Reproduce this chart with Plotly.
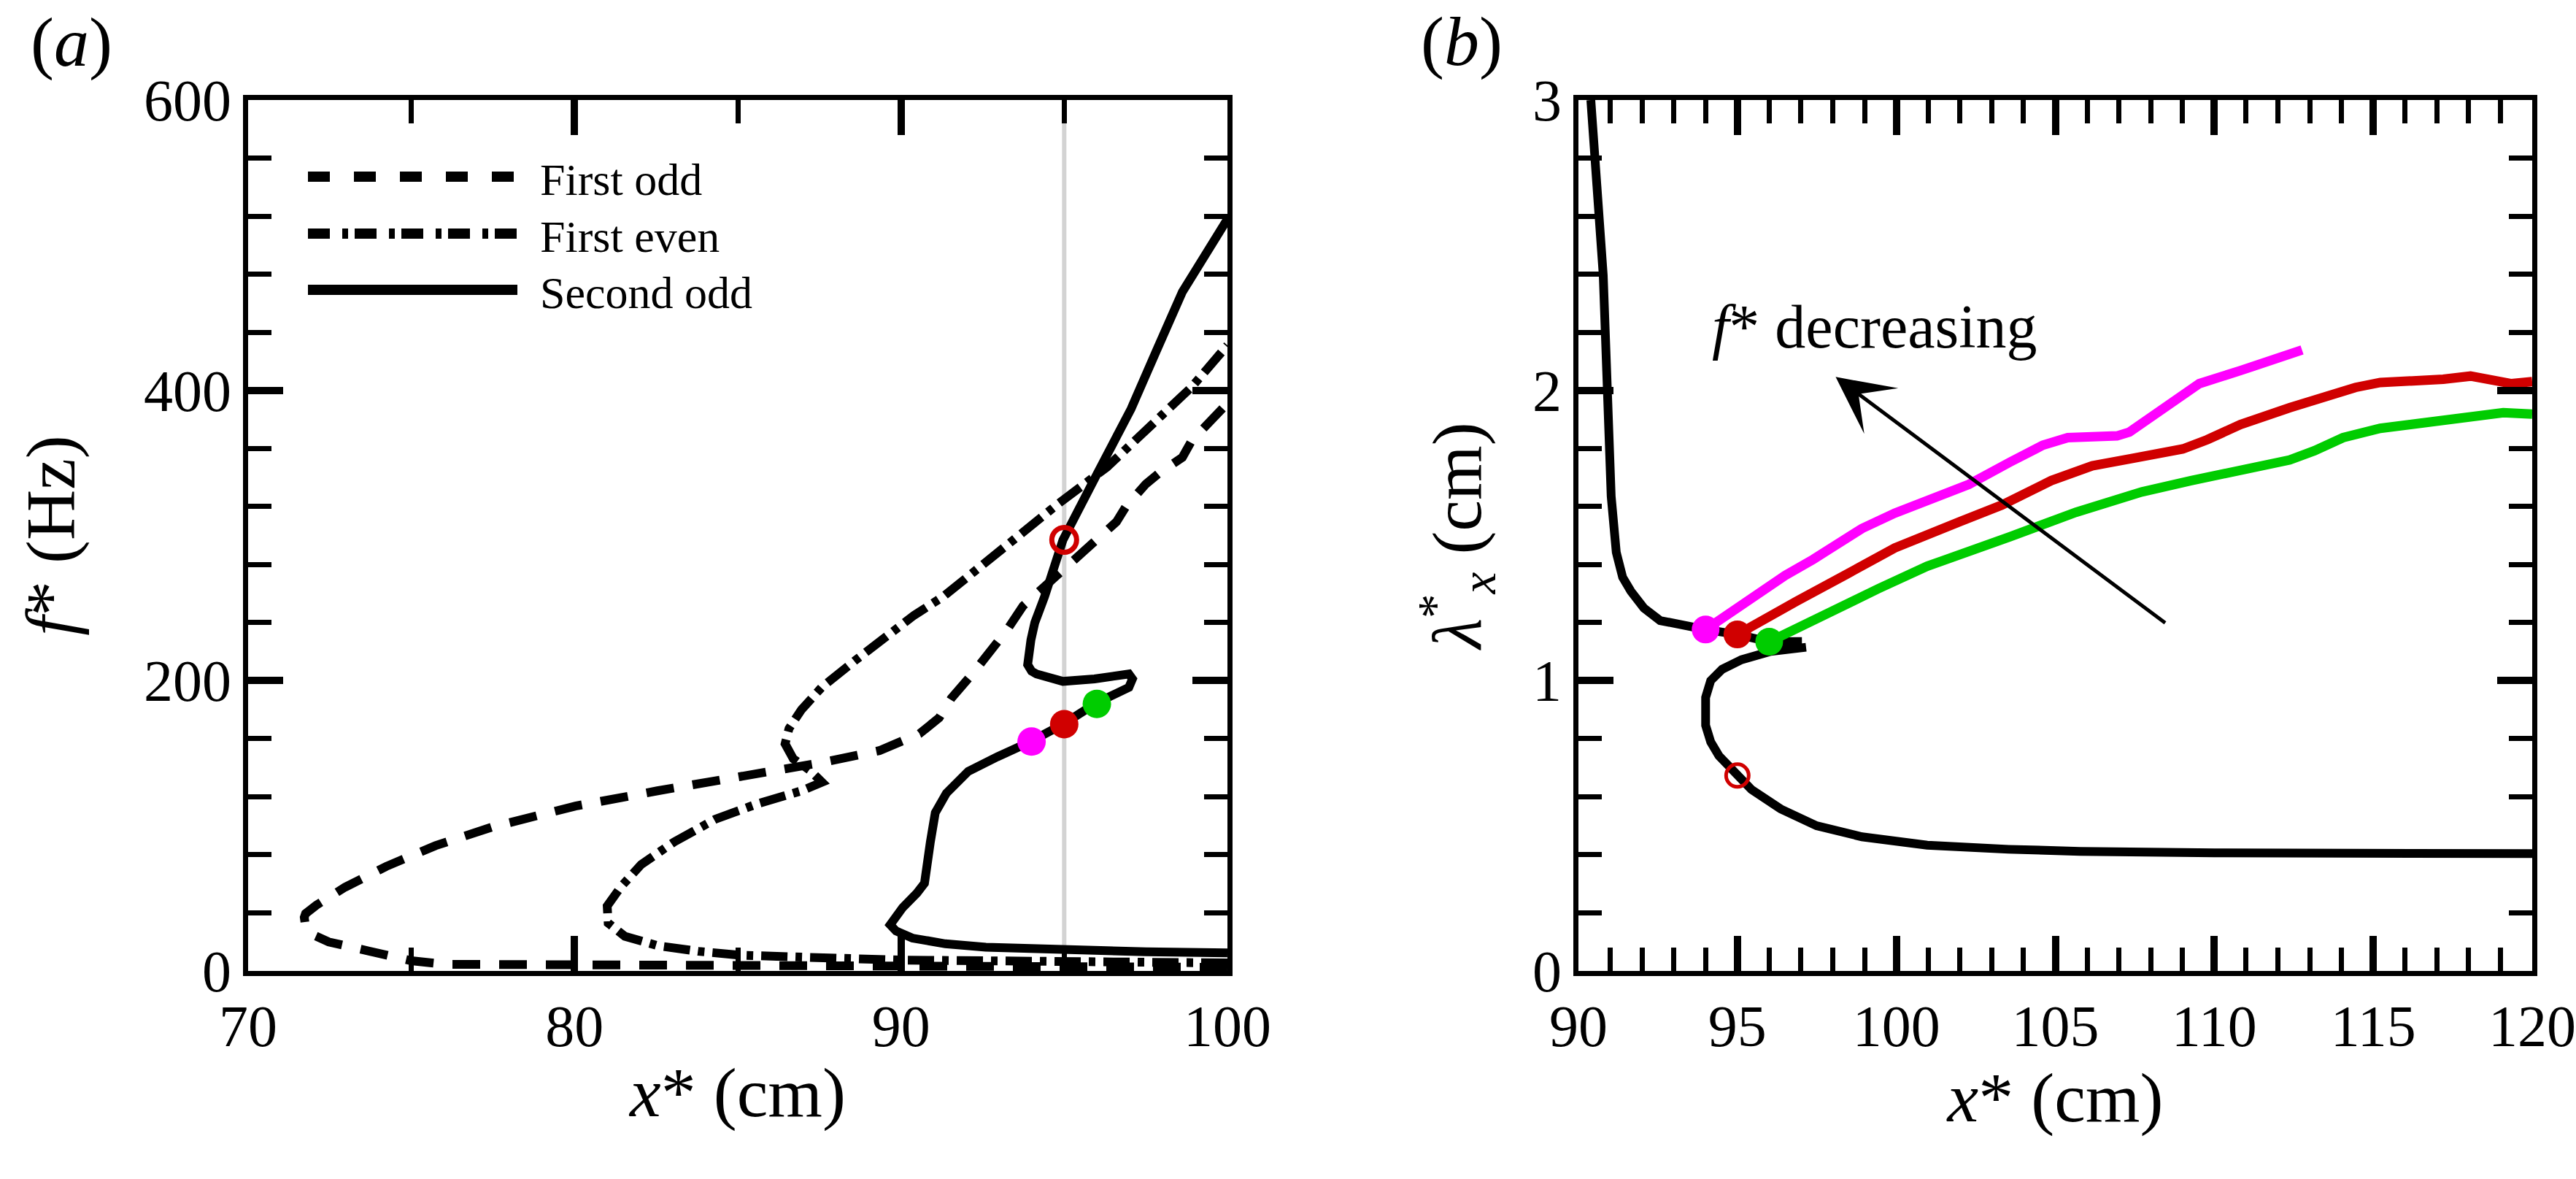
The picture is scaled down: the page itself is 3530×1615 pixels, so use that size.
import plotly.graph_objects as go

FONT = "Liberation Serif, Times New Roman, serif"
W, H = 3530, 1615

# ---------------- panel (a): f* versus x* ----------------
series_names = ["First odd", "First even", "Second odd"]

odd1_x = [100, 95, 90, 85, 80, 77.5, 76.0, 75.0, 74.23, 73.22, 72.47, 71.96, 71.76, 71.72,
          71.76, 72.09, 72.97, 74.23, 75.74, 77.5, 80.03, 82.54, 85.06, 87.58, 89.34, 90.57,
          91.17, 91.54, 92.2, 93.25, 93.74, 94.82, 95.49, 96.0, 96.6, 96.9, 97.5, 97.95,
          98.62, 98.91, 99.5, 100]
odd1_y = [2.5, 2.7, 2.9, 3.1, 3.4, 3.9, 4.6, 7.0, 10.9, 15.6, 20.0, 25.2, 30.4, 36.9,
          39.5, 45.3, 57.7, 72.0, 86.3, 99.3, 113.6, 124.1, 133.2, 143.6, 151.8, 163.5,
          174.4, 187.8, 205, 235, 251.5, 273.3, 287.6, 298.4, 309.4, 320.3, 335.4, 343.7,
          353.8, 365.5, 378.9, 391]

even1_x = [100, 95, 90, 87, 85.06, 83.8, 82.54, 81.54, 81.03, 81.0, 81.41, 82.04, 83.05,
           84.31, 85.57, 86.95, 87.58, 87.2, 86.7, 86.45, 86.57, 86.95, 87.58, 88.59, 89.45,
           90.4, 91.3, 92.58, 93.7, 94.82, 96.31, 97.8, 98.91, 100]
even1_y = [5.5, 6.0, 7.5, 9.5, 10.9, 13.5, 17.4, 23.9, 33.0, 44.7, 57.7, 73.3, 88.9,
           104.5, 114.9, 124.1, 130.0, 138.4, 146.2, 156.5, 167.0, 180.0, 195.6, 213.8, 228.5,
           245, 258, 281.7, 302, 321.9, 347.1, 378.9, 402.4, 431]

odd2_x = [100, 99.3, 98.62, 97.8, 97.05, 96.0, 94.96, 94.4, 94.1, 93.98, 93.88, 94.0, 94.15,
          94.96, 95.93, 96.98, 97.09, 96.98, 95.97, 94.98, 93.98, 92.95, 92.06, 91.39, 91.05,
          90.9, 90.72, 90.49, 90.05, 89.67, 89.85, 90.35, 91.36, 92.6, 95, 97.5, 100]
odd2_y = [518, 492.5, 467.8, 426, 387.3, 342.1, 296.8, 258, 240, 228, 211, 206.5, 204.6,
          199.5, 201.2, 204.6, 201.2, 195.3, 184.4, 170.2, 158.1, 147.5, 137.5, 122.4, 109,
          88.9, 60.4, 53.7, 43.6, 31.8, 27.5, 22.6, 18.7, 16.4, 14.5, 13.2, 12.5]

pt_colors = ["#ff00ff", "#d00000", "#00cc00"]
pts_a_x = [94, 95, 96]
pts_a_y = [158, 170, 184]
open_a_x = [95]
open_a_y = [297]
ref_x_a = 95

# ---------------- panel (b): lambda_x* versus x* ----------------
lam_x = [90.39, 90.55, 90.78, 90.91, 90.95, 91.03, 91.19, 91.39, 91.65, 92.06, 92.57, 93.29,
         94.0, 95.0, 96.0, 97.03, None,
         97.16, 96.05, 95.13, 94.52, 94.16, 94.0, 94.0, 94.16, 94.42, 95.0, 95.44, 96.36,
         97.49, 98.92, 100.97, 103.53, 105.77, 110, 115, 120]
lam_y = [3.0, 2.77, 2.396, 2.0, 1.75, 1.635, 1.442, 1.356, 1.308, 1.25, 1.207, 1.188,
         1.176, 1.159, 1.134, 1.135, None,
         1.115, 1.101, 1.072, 1.039, 1.0, 0.942, 0.846, 0.789, 0.741, 0.673, 0.625, 0.558,
         0.500, 0.462, 0.433, 0.419, 0.412, 0.407, 0.405, 0.404]

mag_x = [94.0, 94.42, 95.3, 95.85, 96.5, 97.39, 98.92, 99.95, 101.49, 102.28, 103.58, 104.61,
         105.39, 106.94, 107.33, 107.97, 109.01, 109.53, 110.82, 112.11, 112.76]
mag_y = [1.176, 1.207, 1.277, 1.321, 1.362, 1.418, 1.524, 1.577, 1.644, 1.676, 1.753, 1.811,
         1.837, 1.843, 1.856, 1.907, 1.991, 2.023, 2.068, 2.113, 2.139]

red_x = [95.0, 95.44, 96.87, 98.41, 99.95, 102.0, 103.32, 104.87, 106.16, 107.46, 109.01,
         109.78, 110.82, 112.37, 113.41, 114.44, 115.22, 116.25, 117.2, 118.06, 118.84,
         119.35, 120]
red_y = [1.159, 1.188, 1.274, 1.365, 1.457, 1.548, 1.605, 1.689, 1.740, 1.766, 1.798,
         1.830, 1.882, 1.940, 1.978, 2.010, 2.027, 2.030, 2.038, 2.049, 2.036, 2.023, 2.030]

grn_x = [96.0, 96.46, 97.9, 99.44, 100.97, 103.02, 103.58, 105.65, 107.72, 109.27, 110.82,
         112.37, 113.15, 114.05, 115.22, 116.51, 118.06, 119.09, 120]
grn_y = [1.134, 1.159, 1.231, 1.317, 1.394, 1.480, 1.496, 1.580, 1.650, 1.689, 1.728,
         1.760, 1.792, 1.837, 1.869, 1.888, 1.914, 1.923, 1.918]

pts_b_x = [94, 95, 96]
pts_b_y = [1.176, 1.159, 1.134]
open_b_x = [95]
open_b_y = [0.673]

arrow_tail = (108.49, 1.196)
arrow_tip = (98.09, 2.046)
arrow_text_pos = (99.3, 2.22)

# ---------------- styling ----------------
BLACK_W = 12
COLOR_W = 13
DASH = "38px,26px"
DASHDOT = "36px,11px,9px,11px"
dash_styles = [DASH, DASHDOT, "solid"]
legend_dashes = ["30px,33px", "30px,17px,8px,9px", "solid"]

fig = go.Figure()

fig.add_vline(x=ref_x_a, line=dict(color="#d3d3d3", width=6), layer="below")

for xs, ys, nm, ds in [(odd1_x, odd1_y, series_names[0], dash_styles[0]),
                       (even1_x, even1_y, series_names[1], dash_styles[1]),
                       (odd2_x, odd2_y, series_names[2], dash_styles[2])]:
    fig.add_trace(go.Scatter(x=xs, y=ys, mode="lines", name=nm, showlegend=False,
                             line=dict(color="black", width=BLACK_W, dash=ds),
                             xaxis="x", yaxis="y"))

fig.add_trace(go.Scatter(x=pts_a_x, y=pts_a_y, mode="markers", showlegend=False,
                         marker=dict(size=39, color=pt_colors, line=dict(width=0)),
                         xaxis="x", yaxis="y"))
fig.add_trace(go.Scatter(x=open_a_x, y=open_a_y, mode="markers", showlegend=False,
                         marker=dict(symbol="circle-open", size=34, color="#d00000",
                                     line=dict(width=7, color="#d00000")),
                         xaxis="x", yaxis="y"))

# panel (b)
fig.add_trace(go.Scatter(x=lam_x, y=lam_y, mode="lines", showlegend=False, connectgaps=False,
                         line=dict(color="black", width=BLACK_W), xaxis="x2", yaxis="y2"))
for xs, ys, c in [(mag_x, mag_y, pt_colors[0]), (red_x, red_y, pt_colors[1]),
                  (grn_x, grn_y, pt_colors[2])]:
    fig.add_trace(go.Scatter(x=xs, y=ys, mode="lines", showlegend=False,
                             line=dict(color=c, width=COLOR_W), xaxis="x2", yaxis="y2"))
fig.add_trace(go.Scatter(x=pts_b_x, y=pts_b_y, mode="markers", showlegend=False,
                         marker=dict(size=38, color=pt_colors, line=dict(width=0)),
                         xaxis="x2", yaxis="y2"))
fig.add_trace(go.Scatter(x=open_b_x, y=open_b_y, mode="markers", showlegend=False,
                         marker=dict(symbol="circle-open", size=31, color="#d00000",
                                     line=dict(width=5, color="#d00000")),
                         xaxis="x2", yaxis="y2"))

tickfont = dict(family=FONT, size=80, color="black")
titlefont = dict(family=FONT, size=96, color="black")


def axis(domain, rng, dtick, tick0, mdtick, anchor, title, standoff):
    return dict(domain=domain, range=rng, anchor=anchor, tickmode="linear", dtick=dtick,
                tick0=tick0, ticks="inside", ticklen=48, tickwidth=10, tickcolor="black",
                minor=dict(ticks="inside", ticklen=32, tickwidth=7, tickcolor="black",
                           dtick=mdtick, tick0=tick0, showgrid=False),
                showline=True, linecolor="black", linewidth=7, mirror="ticks",
                showgrid=False, zeroline=False, tickfont=tickfont, fixedrange=True,
                title=dict(text=title, font=titlefont, standoff=standoff),
                automargin=False)


ydom = [1 - 1330 / H, 1 - 137 / H]
xdom_a = [340 / W, 1682 / W]
xdom_b = [2163 / W, 3470 / W]

layout = dict(
    width=W, height=H, margin=dict(l=0, r=0, t=0, b=0),
    paper_bgcolor="white", plot_bgcolor="white", showlegend=False,
    font=dict(family=FONT, color="black"),
    xaxis=axis(xdom_a, [70, 100], 10, 70, 5, "y", "<i>x</i>* (cm)", 15),
    yaxis=axis(ydom, [0, 600], 200, 0, 40, "x", "<i>f</i>* (Hz)", 65),
    xaxis2=axis(xdom_b, [90, 120], 5, 90, 1, "y2", "<i>x</i>* (cm)", 15),
    yaxis2=axis(ydom, [0, 3], 1, 0, 0.2, "x2",
                "<i>λ</i><sup>*</sup><sub><i>x</i></sub> (cm)", 41),
    xaxis3=dict(overlaying="x", anchor="y", range=[70, 100], tickmode="array",
                tickvals=[95], ticktext=["95"], ticks="", showline=True,
                linecolor="rgba(0,0,0,0)", linewidth=7, showgrid=False, zeroline=False,
                tickfont=tickfont, side="bottom", fixedrange=True, automargin=False),
)
fig.update_layout(**layout)

# legend of panel (a)
leg_rows = [242, 320, 397]
for nm, dsh, yy in zip(series_names, legend_dashes, leg_rows):
    fig.add_shape(type="line", xref="paper", yref="paper", x0=422 / W, x1=709 / W,
                  y0=1 - yy / H, y1=1 - yy / H, line=dict(color="black", width=14, dash=dsh))
    fig.add_annotation(xref="paper", yref="paper", x=738 / W, y=1 - (yy + 4) / H,
                       text=nm, showarrow=False, xanchor="left", yanchor="middle",
                       font=dict(family=FONT, size=62, color="black"))

# panel labels
fig.add_annotation(xref="paper", yref="paper", x=98 / W, y=1 - 58 / H, text="(<i>a</i>)",
                   showarrow=False, xanchor="center", yanchor="middle",
                   font=dict(family=FONT, size=96, color="black"))
fig.add_annotation(xref="paper", yref="paper", x=2003 / W, y=1 - 57 / H, text="(<i>b</i>)",
                   showarrow=False, xanchor="center", yanchor="middle",
                   font=dict(family=FONT, size=96, color="black"))

# arrow and its label in panel (b)
fig.add_annotation(xref="x2", yref="y2", axref="x2", ayref="y2",
                   x=arrow_tip[0], y=arrow_tip[1], ax=arrow_tail[0], ay=arrow_tail[1],
                   text="", showarrow=True, arrowhead=3, arrowsize=2.6, arrowwidth=5,
                   arrowcolor="black", standoff=0)
fig.add_annotation(xref="x2", yref="y2", x=arrow_text_pos[0], y=arrow_text_pos[1],
                   text="<i>f</i>* decreasing", showarrow=False, xanchor="center",
                   yanchor="middle", font=dict(family=FONT, size=84, color="black"))

fig.write_html("out.html")
